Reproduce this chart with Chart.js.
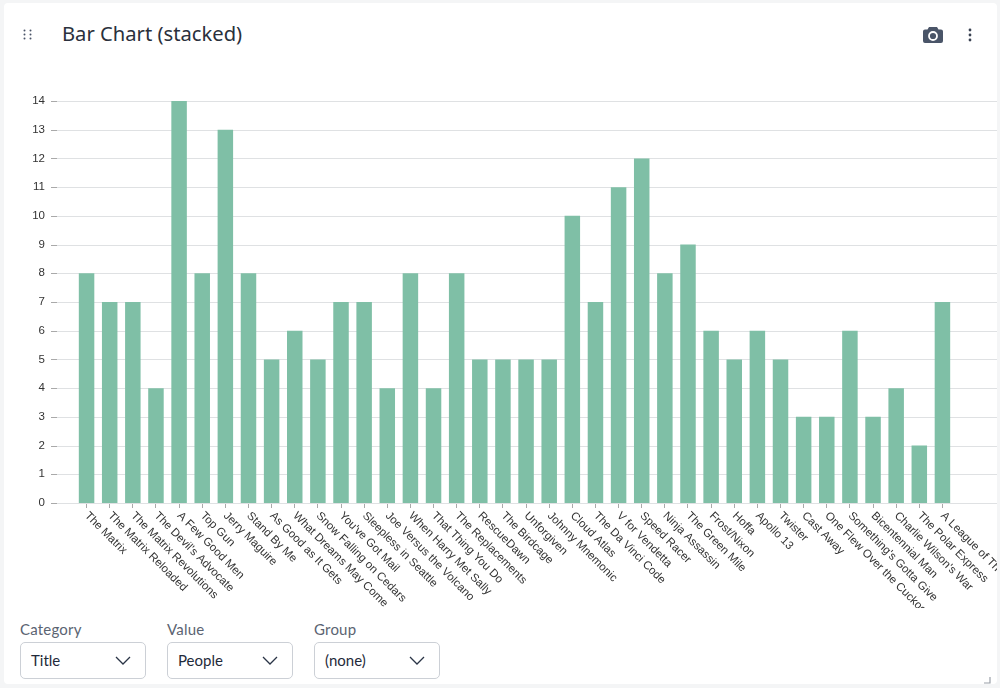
<!DOCTYPE html>
<html>
<head>
<meta charset="utf-8">
<title>Bar Chart (stacked)</title>
<script src="https://cdn.jsdelivr.net/npm/chart.js@4"></script>
<style>
    html, body { margin: 0; padding: 0; }
    body { width: 1000px; height: 688px; background: #f4f5f6; overflow: hidden; font-family: Lato, "Noto Sans", sans-serif; position: relative; }
    .card { position: absolute; left: 4px; top: 3px; width: 993px; height: 681px; background: #fff; border-radius: 4px; }
    .title { position: absolute; left: 62px; top: 19px; font-size: 20.2px; line-height: 28px; color: #2a303c; font-family: "Noto Sans", sans-serif; font-weight: 400; }
    .chart-box { position: absolute; left: 4px; top: 60px; width: 993px; height: 548px; }
    .field { position: absolute; top: 620px; width: 126px; }
    .field label { display: block; font-size: 15px; line-height: 18px; color: #5b6472; letter-spacing: 0.2px; }
    .select { position: absolute; top: 22px; left: 0; width: 124px; height: 35px; border: 1px solid #ccd0d6; border-radius: 5px; font-size: 15px; line-height: 35px; color: #1f2a3a; text-indent: 10px; }
    .select svg { position: absolute; left: 94px; top: 13px; }
    svg.icon { position: absolute; }
</style>
</head>
<body>
<div class="card"></div>

<svg class="icon" style="left:23px;top:29px" width="10" height="12" fill="#4a5568">
    <circle cx="1.5" cy="1.5" r="1"/><circle cx="7.5" cy="1.5" r="1"/>
    <circle cx="1.5" cy="5.5" r="1"/><circle cx="7.5" cy="5.5" r="1"/>
    <circle cx="1.5" cy="9.5" r="1"/><circle cx="7.5" cy="9.5" r="1"/>
</svg>
<div class="title">Bar Chart (stacked)</div>

<svg class="icon" style="left:923px;top:26px" width="20" height="18">
    <path fill="#4a5568" d="M6 1h8l1.500 2.500H18a2 2 0 0 1 2 2V15a2 2 0 0 1-2 2H2a2 2 0 0 1-2-2V5.500a2 2 0 0 1 2-2h2.500z"/>
    <circle cx="10" cy="10" r="4" fill="none" stroke="#fff" stroke-width="1.800"/>
</svg>
<svg class="icon" style="left:967px;top:28px" width="6" height="14" fill="#3a4252">
    <circle cx="3" cy="2" r="1.400"/><circle cx="3" cy="7" r="1.400"/><circle cx="3" cy="12" r="1.400"/>
</svg>

<div class="chart-box"><canvas id="barChart" width="993" height="548"></canvas></div>

<div class="field" style="left:20px"><label>Category</label>
    <div class="select">Title<svg width="16" height="10" fill="none" stroke="#2a3446" stroke-width="1.300"><path d="M1 1l7 7 7-7"/></svg></div></div>
<div class="field" style="left:167px"><label>Value</label>
    <div class="select">People<svg width="16" height="10" fill="none" stroke="#2a3446" stroke-width="1.300"><path d="M1 1l7 7 7-7"/></svg></div></div>
<div class="field" style="left:314px"><label>Group</label>
    <div class="select">(none)<svg width="16" height="10" fill="none" stroke="#2a3446" stroke-width="1.300"><path d="M1 1l7 7 7-7"/></svg></div></div>

<svg class="icon" style="left:984px;top:677px" width="7" height="7" fill="none" stroke="#9aa0a8" stroke-width="1.200"><path d="M6 0v6H0"/></svg>

<script>
const titles = [
    'The Matrix', 'The Matrix Reloaded', 'The Matrix Revolutions', "The Devil's Advocate",
    'A Few Good Men', 'Top Gun', 'Jerry Maguire', 'Stand By Me', 'As Good as It Gets',
    'What Dreams May Come', 'Snow Falling on Cedars', "You've Got Mail", 'Sleepless in Seattle',
    'Joe Versus the Volcano', 'When Harry Met Sally', 'That Thing You Do', 'The Replacements',
    'RescueDawn', 'The Birdcage', 'Unforgiven', 'Johnny Mnemonic', 'Cloud Atlas',
    'The Da Vinci Code', 'V for Vendetta', 'Speed Racer', 'Ninja Assassin', 'The Green Mile',
    'Frost/Nixon', 'Hoffa', 'Apollo 13', 'Twister', 'Cast Away',
    "One Flew Over the Cuckoo's Nest", "Something's Gotta Give", 'Bicentennial Man',
    "Charlie Wilson's War", 'The Polar Express', 'A League of Their Own'
];
const people = [
    8, 7, 7, 4, 14, 8, 13, 8, 5, 6, 5, 7, 7, 4, 8, 4, 8, 5, 5,
    5, 5, 10, 7, 11, 12, 8, 9, 6, 5, 6, 5, 3, 3, 6, 3, 4, 2, 7
];

// y grid runs past the bars on both sides, and x labels hang down-right from the tick
const axisExtras = {
    id: 'axisExtras',
    beforeDatasetsDraw(chart) {
        const ctx = chart.ctx;
        const y = chart.scales.y;
        ctx.save();
        ctx.lineWidth = 1;
        y.ticks.forEach((tick, i) => {
            const py = Math.round(y.getPixelForTick(i)) + 0.5;
            ctx.strokeStyle = '#dfe1e3';
            ctx.beginPath();
            ctx.moveTo(53, py);
            ctx.lineTo(993, py);
            ctx.stroke();
            ctx.strokeStyle = '#a9a9a9';
            ctx.beginPath();
            ctx.moveTo(47, py);
            ctx.lineTo(53, py);
            ctx.stroke();
        });
        ctx.restore();
    },
    afterDraw(chart) {
        const ctx = chart.ctx;
        const x = chart.scales.x;
        ctx.save();
        ctx.font = '11.5px "Liberation Sans", Arial, sans-serif';
        ctx.fillStyle = '#333';
        ctx.textAlign = 'left';
        ctx.textBaseline = 'middle';
        titles.forEach((label, i) => {
            ctx.save();
            ctx.translate(x.getPixelForTick(i), x.top + 11);
            ctx.rotate(Math.PI / 4);
            ctx.fillText(label, 0, 0);
            ctx.restore();
        });
        ctx.restore();
    }
};

new Chart(document.getElementById('barChart'), {
    type: 'bar',
    data: {
        labels: titles,
        datasets: [{
            label: 'People',
            data: people,
            backgroundColor: '#7fbfa6',
            barPercentage: 0.67,
            categoryPercentage: 1
        }]
    },
    options: {
        responsive: false,
        animation: false,
        layout: { padding: { top: 41, right: 43, bottom: 0, left: 0 } },
        plugins: { legend: { display: false }, title: { display: false }, tooltip: { enabled: false } },
        scales: {
            x: {
                stacked: true,
                border: { display: false },
                grid: { offset: false, drawOnChartArea: false, drawTicks: true, tickLength: 5, tickColor: '#a9a9a9' },
                ticks: { display: false },
                afterFit(scale) { scale.height = 105; }
            },
            y: {
                stacked: true,
                min: 0,
                max: 14,
                border: { display: false },
                grid: { display: false },
                ticks: {
                    stepSize: 1,
                    padding: 22,
                    color: '#333',
                    font: { family: '"Liberation Sans", Arial, sans-serif', size: 11.5 }
                },
                afterFit(scale) { scale.width = 71; }
            }
        }
    },
    plugins: [axisExtras]
});
</script>
</body>
</html>
